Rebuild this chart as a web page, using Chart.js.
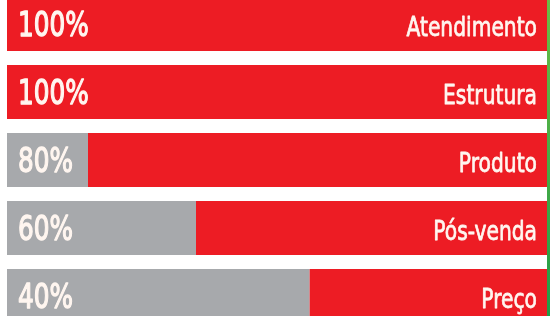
<!DOCTYPE html>
<html>
<head>
<meta charset="utf-8">
<script src="https://cdn.jsdelivr.net/npm/chart.js@4/dist/chart.umd.min.js"></script>
<style>
  html, body { margin: 0; padding: 0; background: #fff; overflow: hidden; }
  #wrap { position: absolute; left: 0; top: -10px; width: 551px; height: 340px; }
</style>
</head>
<body>
<div id="wrap"><canvas id="myChart"></canvas></div>
<script>
// données du graphique
var categorias = ['Atendimento', 'Estrutura', 'Produto', 'Pós-venda', 'Preço'];
var percentuais = [100, 100, 80, 60, 40];
// partie grise (en % de la largeur)
var parteCinza = [0, 0, 15, 35, 56];
var parteVermelha = parteCinza.map(function (v) { return 100 - v; });

var vermelho = '#ED1C24';
var cinza = '#A7A9AC';

// textes dans les barres + trait vert à droite
var textePlugin = {
    id: 'texteBarres',
    afterDatasetsDraw: function (chart) {
        var ctx = chart.ctx;
        var area = chart.chartArea;
        var yScale = chart.scales.y;
        ctx.save();
        ctx.fillStyle = '#FFF6F0';
        ctx.strokeStyle = '#FFF6F0';
        ctx.lineJoin = 'round';
        ctx.textBaseline = 'alphabetic';
        categorias.forEach(function (cat, i) {
            var y = yScale.getPixelForValue(i) + 11.5;
            // pourcentage à gauche
            ctx.save();
            ctx.translate(area.left + 11, y);
            ctx.scale(0.75, 1);
            ctx.font = '33px "DejaVu Sans"';
            ctx.textAlign = 'left';
            ctx.lineWidth = 1.3;
            ctx.fillText(percentuais[i] + '%', 0, 0);
            ctx.strokeText(percentuais[i] + '%', 0, 0);
            ctx.restore();
            // catégorie à droite
            ctx.save();
            ctx.translate(area.right - 10, y);
            ctx.scale(0.75, 1);
            ctx.font = '27px "DejaVu Sans"';
            ctx.textAlign = 'right';
            ctx.lineWidth = 0.8;
            ctx.fillText(cat, 0, 0);
            ctx.strokeText(cat, 0, 0);
            ctx.restore();
        });
        // trait vert
        var grad = ctx.createLinearGradient(0, 0, 0, chart.height);
        grad.addColorStop(0, '#6DBE45');
        grad.addColorStop(1, '#1E9A48');
        ctx.fillStyle = grad;
        ctx.fillRect(area.right, 0, 3, chart.height);
        ctx.restore();
    }
};

var ctx = document.getElementById('myChart').getContext('2d');
var myChart = new Chart(ctx, {
    type: 'bar',
    data: {
        labels: categorias,
        datasets: [{
            label: 'cinza',
            data: parteCinza,
            backgroundColor: cinza,
            borderWidth: 0,
            barPercentage: 1,
            categoryPercentage: 0.794
        }, {
            label: 'vermelho',
            data: parteVermelha,
            backgroundColor: vermelho,
            borderWidth: 0,
            barPercentage: 1,
            categoryPercentage: 0.794
        }]
    },
    options: {
        indexAxis: 'y',
        responsive: true,
        maintainAspectRatio: false,
        animation: false,
        layout: {
            padding: { left: 7, right: 4, top: 0, bottom: 0 }
        },
        plugins: {
            legend: { display: false },
            tooltip: { enabled: false }
        },
        scales: {
            x: {
                stacked: true,
                min: 0,
                max: 100,
                display: false
            },
            y: {
                stacked: true,
                display: false
            }
        }
    },
    plugins: [textePlugin]
});
</script>
</body>
</html>
